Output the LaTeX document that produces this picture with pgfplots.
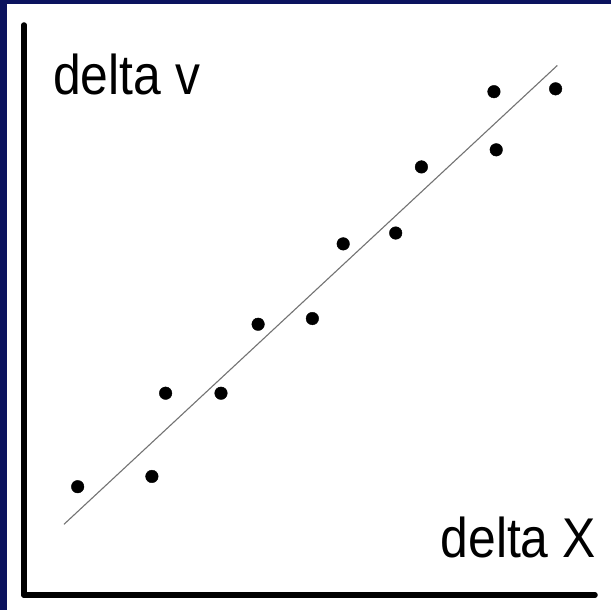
\documentclass[border=0pt]{standalone}
\usepackage{pgfplots}
\pgfplotsset{compat=1.18}
\usepackage{fontspec}
\setmainfont{Liberation Sans}
\newfontfamily\labfont[FakeStretch=0.89]{Liberation Sans}
\definecolor{slidenavy}{RGB}{11,19,94}

\begin{document}
\begin{tikzpicture}[x=1bp,y=1bp]
  \useasboundingbox (0,0) rectangle (611,610);
  % slide background and white panel
  \fill[slidenavy] (0,0) rectangle (611,610);
  \fill[white] (7,0) rectangle (611,606);

  \begin{axis}[
    at={(24bp,15bp)}, anchor=south west,
    scale only axis, width=571bp, height=570bp,
    xmin=0, xmax=10, ymin=0, ymax=10,
    axis lines=left,
    axis line style={-, line width=5.5bp, line cap=round, black},
    xtick=\empty, ytick=\empty,
    clip=false,
  ]
    % measured points
    \addplot[only marks, mark=*, mark size=6.3bp, black] coordinates {
      (0.94,1.90) (2.24,2.08) (2.48,3.54) (3.45,3.54)
      (4.10,4.75) (5.05,4.85) (5.59,6.16) (6.51,6.35)
      (6.96,7.51) (8.23,8.83) (8.27,7.81) (9.31,8.88)
    };
    % best-fit line
    \addplot[black!55, line width=1.1bp] coordinates {(0.70,1.24) (9.34,9.29)};
  \end{axis}

  \node[anchor=base west, inner sep=0pt, font=\labfont\fontsize{56bp}{60bp}\selectfont]
    at (53,515) {delta v};
  \node[anchor=base east, inner sep=0pt, font=\labfont\fontsize{56bp}{60bp}\selectfont]
    at (596,52) {delta X};
\end{tikzpicture}
\end{document}
